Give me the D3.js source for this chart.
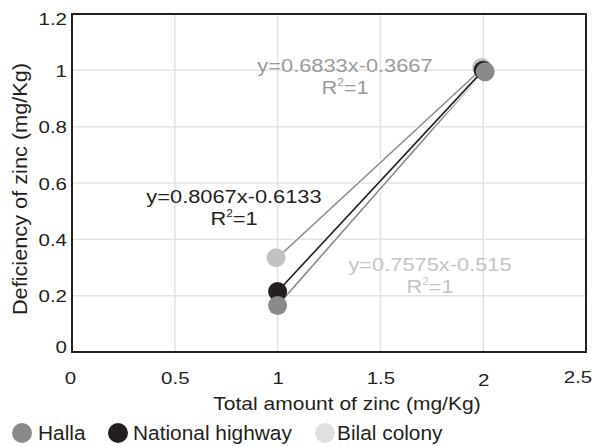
<!DOCTYPE html>
<html>
<head>
<meta charset="utf-8">
<script src="https://cdn.jsdelivr.net/npm/d3@7"></script>
<style>
  body { margin: 0; background: #fff; }
  svg { font-family: "Liberation Sans", Arial, sans-serif; }
</style>
</head>
<body>
<div class="main"></div>
<script>
const seriesNames = ["Halla", "National highway", "Bilal colony"];
const xValues = [1, 2];
const hallaValues = [0.165, 0.995];
const highwayValues = [0.215, 1.0];
const bilalValues = [0.335, 1.01];
const equations = ["y=0.7575x-0.515", "y=0.8067x-0.6133", "y=0.6833x-0.3667"];
const xTicks = [0, 0.5, 1, 1.5, 2, 2.5];
const yTicks = [0, 0.2, 0.4, 0.6, 0.8, 1, 1.2];

const width = 598, height = 446;
const margin = {left: 72, right: 12, top: 14, bottom: 94};

const markerColor = ["#8a8a8d", "#231f20", "#c2c2c4"];
const legendColor = ["#8a8a8d", "#231f20", "#e0e0e2"];
const lineColor = ["#8a8a8a", "#231f20", "#8f8f8f"];
const eqColor = ["#c4c4c4", "#231f20", "#9a9a9a"];
// label spots (pixels) for the trendline equations, centre / baseline
const eqPos = [[430, 271], [234, 203], [345, 72]];
const sx = 1.18; // the source's text is stretched sideways

const svg = d3.select(".main").append("svg")
    .attr("width", width)
    .attr("height", height);

const x = d3.scaleLinear().domain([0, 2.5]).range([margin.left, width - margin.right]);
const y = d3.scaleLinear().domain([0, 1.2]).range([height - margin.bottom, margin.top]);

// grid
svg.append("g")
    .selectAll("line")
    .data(xTicks.slice(1, -1))
    .enter().append("line")
    .attr("x1", d => x(d)).attr("x2", d => x(d))
    .attr("y1", y(0)).attr("y2", y(1.2))
    .attr("stroke", "#e2e2e2").attr("stroke-width", 1.5);

svg.append("g")
    .selectAll("line")
    .data(yTicks.slice(1, -1))
    .enter().append("line")
    .attr("y1", d => y(d)).attr("y2", d => y(d))
    .attr("x1", x(0)).attr("x2", x(2.5))
    .attr("stroke", "#e2e2e2").attr("stroke-width", 1.5);

// frame
svg.append("rect")
    .attr("x", x(0)).attr("y", y(1.2))
    .attr("width", x(2.5) - x(0))
    .attr("height", y(0) - y(1.2))
    .attr("fill", "none")
    .attr("stroke", "#231f20")
    .attr("stroke-width", 2);

// axes
const xAxis = svg.append("g")
    .attr("transform", `translate(0,${y(0)})`)
    .call(d3.axisBottom(x).tickValues(xTicks).tickSize(0).tickFormat(d3.format("")));
xAxis.select(".domain").remove();
xAxis.selectAll("text")
    .attr("font-size", 16)
    .attr("fill", "#231f20")
    .attr("font-family", "Liberation Sans, Arial, sans-serif")
    .attr("y", 0)
    .attr("dy", 0)
    .attr("transform", d => {
        const dx = d === 2.5 ? -8.5 : (d === 0 ? -2 : 0);
        const dy = d === 2 ? 33.5 : (d === 2.5 ? 31 : 31.5);
        return `translate(${dx},${dy}) scale(1.28,1)`;
    });

const yAxis = svg.append("g")
    .attr("transform", `translate(${x(0)},0)`)
    .call(d3.axisLeft(y).tickValues(yTicks).tickSize(0).tickFormat(d3.format("")));
yAxis.select(".domain").remove();
yAxis.selectAll("text")
    .attr("font-size", 16)
    .attr("fill", "#231f20")
    .attr("font-family", "Liberation Sans, Arial, sans-serif")
    .attr("x", 0)
    .attr("dy", 0)
    .attr("transform", d => {
        const dy = d === 1.2 ? 10.5 : (d === 0 ? 0 : 6);
        return `translate(-5,${dy}) scale(1.28,1)`;
    });

svg.append("text")
    .attr("transform", `translate(347,410) scale(1.13,1)`)
    .attr("text-anchor", "middle")
    .attr("font-size", 18.6)
    .attr("fill", "#231f20")
    .text("Total amount of zinc (mg/Kg)");

svg.append("text")
    .attr("transform", `translate(27,189) rotate(-90) scale(1.06,1)`)
    .attr("text-anchor", "middle")
    .attr("font-size", 20.5)
    .attr("fill", "#231f20")
    .text("Deficiency of zinc (mg/Kg)");

// series
const allSeries = [hallaValues, highwayValues, bilalValues];
const line = d3.line().x(d => x(d[0])).y(d => y(d[1]));

// lines: Bilal, Halla, highway on top
[2, 0, 1].forEach(i => {
    const pts = xValues.map((v, j) => [v, allSeries[i][j]]);
    svg.append("path")
        .attr("d", line(pts))
        .attr("fill", "none")
        .attr("stroke", "#fff")
        .attr("stroke-width", 4);
    svg.append("path")
        .attr("d", line(pts))
        .attr("fill", "none")
        .attr("stroke", lineColor[i])
        .attr("stroke-width", 1.6);
});
// markers: Bilal, highway, Halla on top
[2, 1, 0].forEach(i => {
    const pts = xValues.map((v, j) => [v, allSeries[i][j]]);
    svg.append("g").selectAll("circle")
        .data(pts)
        .enter().append("circle")
        .attr("cx", d => x(d[0]) + (i === 2 ? -1.5 : (i === 0 && d[0] === 2 ? 2 : 0)))
        .attr("cy", d => y(d[1]))
        .attr("r", 9.5)
        .attr("fill", markerColor[i]);
});

// equations
equations.forEach((eq, i) => {
    const g = svg.append("g")
        .attr("fill", eqColor[i])
        .attr("transform", `translate(${eqPos[i][0]},${eqPos[i][1]}) scale(${sx},1)`);
    g.append("text")
        .attr("text-anchor", "middle")
        .attr("font-size", 18.5)
        .text(eq);
    const r = g.append("text")
        .attr("y", 22)
        .attr("text-anchor", "middle")
        .attr("font-size", 18.5);
    r.append("tspan").text("R");
    r.append("tspan").attr("font-size", 10).attr("dy", -8).text("2");
    r.append("tspan").attr("dy", 8).text("=1");
});

// legend
const legendX = [22, 118, 325];
const legendGap = [16, 15, 12];
const legend = svg.append("g")
    .selectAll("g")
    .data(seriesNames)
    .enter().append("g")
    .attr("transform", (d, i) => `translate(${legendX[i]},433)`);
legend.append("circle")
    .attr("r", 10)
    .attr("fill", (d, i) => legendColor[i]);
legend.append("text")
    .attr("transform", (d, i) => `translate(${legendGap[i]},6.5) scale(1.07,1)`)
    .attr("font-size", 19.5)
    .attr("fill", "#231f20")
    .text(d => d);
</script>
</body>
</html>
